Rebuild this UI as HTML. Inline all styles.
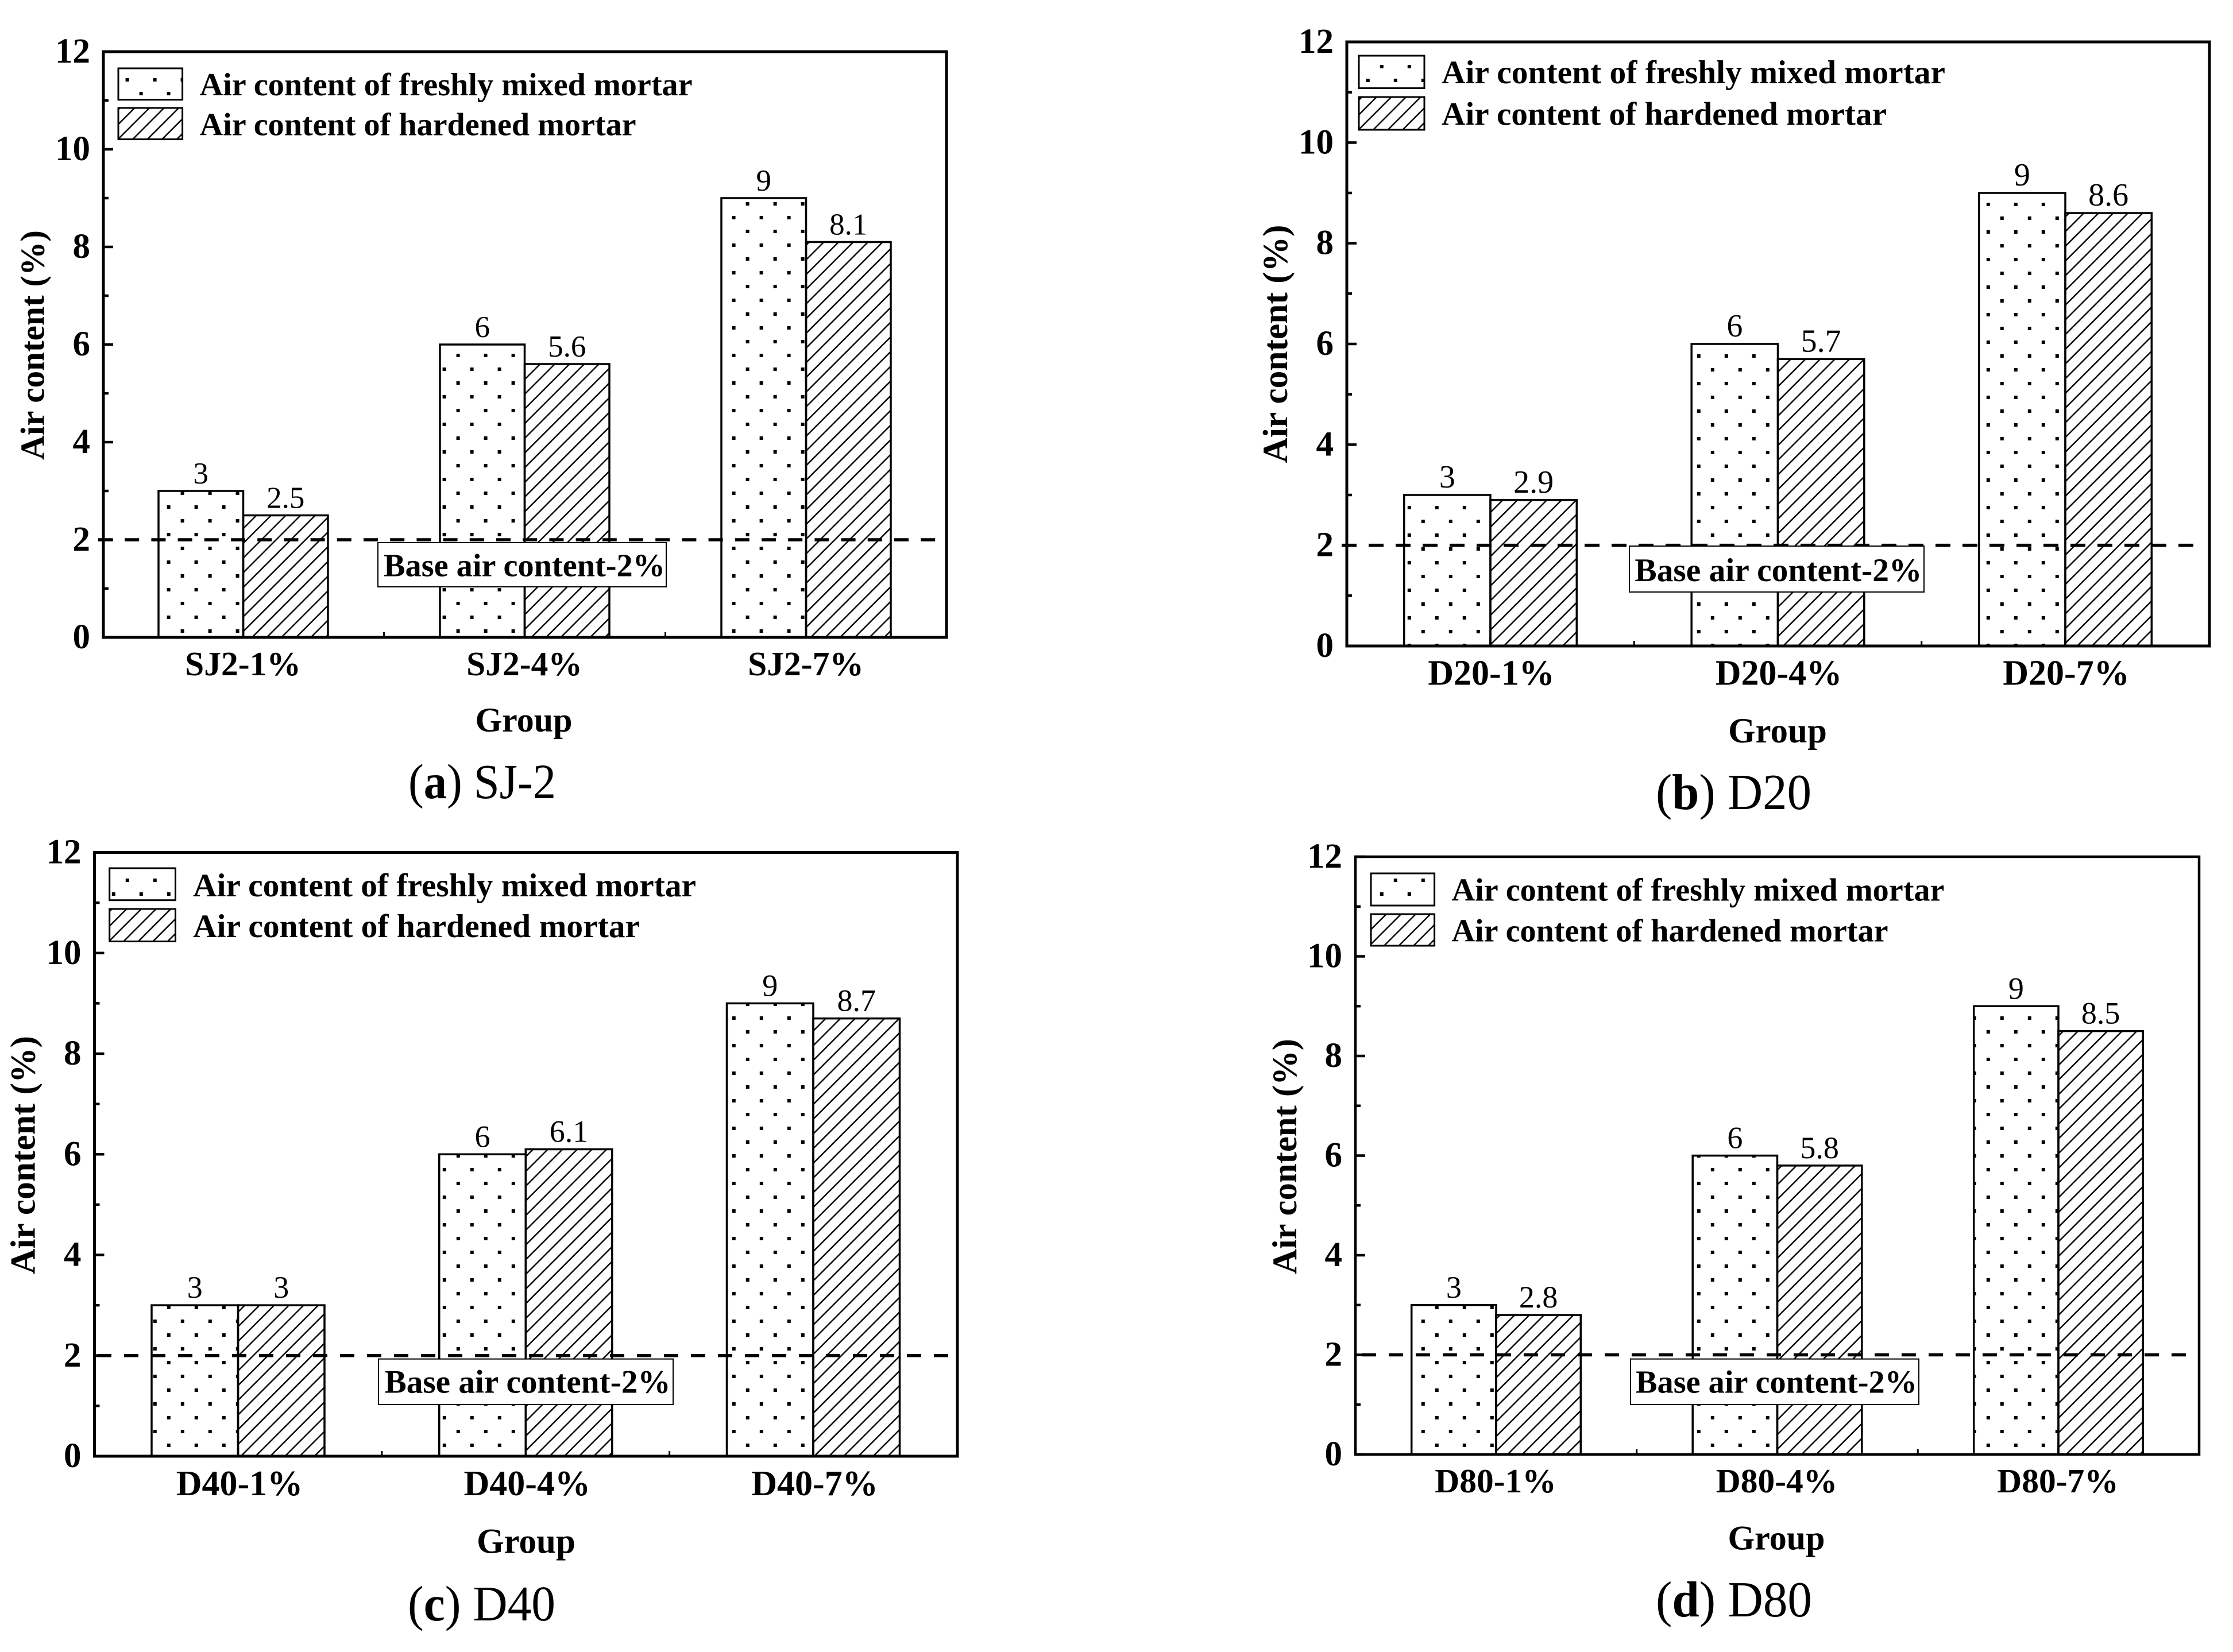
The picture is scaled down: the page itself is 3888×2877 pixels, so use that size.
<!DOCTYPE html>
<html lang="en">
<head>
<meta charset="utf-8">
<title>Air content of mortar groups</title>
<style>
html,body{margin:0;padding:0;background:#fff;width:3888px;height:2877px;overflow:hidden}
svg{display:block}
text{font-family:"Liberation Serif",serif;fill:#000}
.b{font-weight:bold}
</style>
</head>
<body>
<svg id="figure" xmlns="http://www.w3.org/2000/svg" width="3888" height="2877" viewBox="0 0 3888 2877">
<defs>
<pattern id="dots-a" patternUnits="userSpaceOnUse" x="305.6" y="847" width="48" height="48"><rect x="9" y="9" width="6" height="6"/><rect x="33" y="33" width="6" height="6"/></pattern>
<pattern id="dots-b" patternUnits="userSpaceOnUse" x="2465.8" y="896" width="48" height="48"><rect x="9" y="9" width="6" height="6"/><rect x="33" y="33" width="6" height="6"/></pattern>
<pattern id="dots-c" patternUnits="userSpaceOnUse" x="257.8" y="2289" width="48" height="48"><rect x="9" y="9" width="6" height="6"/><rect x="33" y="33" width="6" height="6"/></pattern>
<pattern id="dots-d" patternUnits="userSpaceOnUse" x="2465.8" y="2289" width="48" height="48"><rect x="9" y="9" width="6" height="6"/><rect x="33" y="33" width="6" height="6"/></pattern>
<pattern id="hatch-a" patternUnits="userSpaceOnUse" x="12.8" y="0" width="25.6" height="25.6"><path d="M-2 27.6L27.6 -2M-2 2L2 -2M23.6 27.6L27.6 23.6" stroke="#000" stroke-width="2.5" fill="none"/></pattern>
<pattern id="hatch-b" patternUnits="userSpaceOnUse" x="5.8" y="0" width="25.6" height="25.6"><path d="M-2 27.6L27.6 -2M-2 2L2 -2M23.6 27.6L27.6 23.6" stroke="#000" stroke-width="2.5" fill="none"/></pattern>
<pattern id="hatch-c" patternUnits="userSpaceOnUse" x="11.4" y="0" width="25.6" height="25.6"><path d="M-2 27.6L27.6 -2M-2 2L2 -2M23.6 27.6L27.6 23.6" stroke="#000" stroke-width="2.5" fill="none"/></pattern>
<pattern id="hatch-d" patternUnits="userSpaceOnUse" x="12.2" y="0" width="25.6" height="25.6"><path d="M-2 27.6L27.6 -2M-2 2L2 -2M23.6 27.6L27.6 23.6" stroke="#000" stroke-width="2.5" fill="none"/></pattern>
</defs>

<!-- Panel (a) -->
<g>
  <g id="marks-a"></g>
  <rect x="658" y="945" width="502" height="77" fill="#fff" stroke="#000" stroke-width="2"/>
  <text class="b" x="668" y="1003.6" font-size="56" textLength="490" lengthAdjust="spacingAndGlyphs">Base air content-2%</text>
  <rect x="206" y="119" width="111.6" height="54.7" fill="url(#dots-a)" stroke="#000" stroke-width="3"/>
  <rect x="206" y="188" width="111.6" height="54.6" fill="url(#hatch-a)" stroke="#000" stroke-width="3"/>
  <text class="b" x="347.6" y="166" font-size="56" textLength="858" lengthAdjust="spacingAndGlyphs">Air content of freshly mixed mortar</text>
  <text class="b" x="347.6" y="235.4" font-size="56" textLength="760" lengthAdjust="spacingAndGlyphs">Air content of hardened mortar</text>
  <text class="b" transform="translate(76.5,601) rotate(-90)" text-anchor="middle" font-size="59" textLength="400" lengthAdjust="spacingAndGlyphs">Air content (%)</text>
  <text class="b" x="912" y="1274" text-anchor="middle" font-size="60">Group</text>
  <text x="711" y="1390" font-size="86" textLength="257" lengthAdjust="spacingAndGlyphs">(<tspan class="b">a</tspan>) SJ-2</text>
</g>

<!-- Panel (b) -->
<g>
  <g id="marks-b"></g>
  <rect x="2837" y="951" width="513" height="80" fill="#fff" stroke="#000" stroke-width="2"/>
  <text class="b" x="2846.4" y="1012" font-size="57" textLength="500" lengthAdjust="spacingAndGlyphs">Base air content-2%</text>
  <rect x="2366" y="97" width="114" height="56.6" fill="url(#dots-b)" stroke="#000" stroke-width="3"/>
  <rect x="2366" y="169" width="114" height="57" fill="url(#hatch-b)" stroke="#000" stroke-width="3"/>
  <text class="b" x="2510" y="145" font-size="57" textLength="877" lengthAdjust="spacingAndGlyphs">Air content of freshly mixed mortar</text>
  <text class="b" x="2510" y="217.7" font-size="57" textLength="775" lengthAdjust="spacingAndGlyphs">Air content of hardened mortar</text>
  <text class="b" transform="translate(2241,599) rotate(-90)" text-anchor="middle" font-size="61" textLength="415" lengthAdjust="spacingAndGlyphs">Air content (%)</text>
  <text class="b" x="3095" y="1293" text-anchor="middle" font-size="61">Group</text>
  <text x="2883" y="1409" font-size="88" textLength="271" lengthAdjust="spacingAndGlyphs">(<tspan class="b">b</tspan>) D20</text>
</g>

<!-- Panel (c) -->
<g>
  <g id="marks-c"></g>
  <rect x="659" y="2366.7" width="513" height="79.3" fill="#fff" stroke="#000" stroke-width="2"/>
  <text class="b" x="669.6" y="2425.4" font-size="57" textLength="498" lengthAdjust="spacingAndGlyphs">Base air content-2%</text>
  <rect x="190.7" y="1512" width="114.8" height="55.7" fill="url(#dots-c)" stroke="#000" stroke-width="3"/>
  <rect x="190.7" y="1583" width="114.8" height="56.5" fill="url(#hatch-c)" stroke="#000" stroke-width="3"/>
  <text class="b" x="336" y="1561" font-size="57" textLength="876" lengthAdjust="spacingAndGlyphs">Air content of freshly mixed mortar</text>
  <text class="b" x="336" y="1632" font-size="57" textLength="778" lengthAdjust="spacingAndGlyphs">Air content of hardened mortar</text>
  <text class="b" transform="translate(60.6,2011.5) rotate(-90)" text-anchor="middle" font-size="61" textLength="415" lengthAdjust="spacingAndGlyphs">Air content (%)</text>
  <text class="b" x="916" y="2704.3" text-anchor="middle" font-size="61">Group</text>
  <text x="710" y="2822" font-size="87" textLength="257" lengthAdjust="spacingAndGlyphs">(<tspan class="b">c</tspan>) D40</text>
</g>

<!-- Panel (d) -->
<g>
  <g id="marks-d"></g>
  <rect x="2839" y="2366.7" width="502" height="79.3" fill="#fff" stroke="#000" stroke-width="2"/>
  <text class="b" x="2848" y="2425.4" font-size="56" textLength="490" lengthAdjust="spacingAndGlyphs">Base air content-2%</text>
  <rect x="2387" y="1521" width="110.6" height="56" fill="url(#dots-d)" stroke="#000" stroke-width="3"/>
  <rect x="2387" y="1592" width="110.6" height="55" fill="url(#hatch-d)" stroke="#000" stroke-width="3"/>
  <text class="b" x="2527.5" y="1568.7" font-size="56" textLength="858" lengthAdjust="spacingAndGlyphs">Air content of freshly mixed mortar</text>
  <text class="b" x="2527.5" y="1639.5" font-size="56" textLength="760" lengthAdjust="spacingAndGlyphs">Air content of hardened mortar</text>
  <text class="b" transform="translate(2257,2014) rotate(-90)" text-anchor="middle" font-size="60" textLength="410" lengthAdjust="spacingAndGlyphs">Air content (%)</text>
  <text class="b" x="3093" y="2698.5" text-anchor="middle" font-size="60">Group</text>
  <text x="2883" y="2815" font-size="88" textLength="272" lengthAdjust="spacingAndGlyphs">(<tspan class="b">d</tspan>) D80</text>
</g>
</svg>

<script>
const yMajorTicks = [0, 2, 4, 6, 8, 10, 12];
const yMinorTicks = [1, 3, 5, 7, 9, 11];
const baseAirContent = 2;

const sj2Categories = ['SJ2-1%', 'SJ2-4%', 'SJ2-7%'];
const sj2Fresh = [3, 6, 9];
const sj2Hardened = [2.5, 5.6, 8.1];

const d20Categories = ['D20-1%', 'D20-4%', 'D20-7%'];
const d20Fresh = [3, 6, 9];
const d20Hardened = [2.9, 5.7, 8.6];

const d40Categories = ['D40-1%', 'D40-4%', 'D40-7%'];
const d40Fresh = [3, 6, 9];
const d40Hardened = [3, 6.1, 8.7];

const d80Categories = ['D80-1%', 'D80-4%', 'D80-7%'];
const d80Fresh = [3, 6, 9];
const d80Hardened = [2.8, 5.8, 8.5];

const NS = 'http://www.w3.org/2000/svg';
const yMaxValue = 12;

function svgEl(parent, tag, attrs, txt) {
  const el = document.createElementNS(NS, tag);
  for (const k in attrs) el.setAttribute(k, attrs[k]);
  if (txt !== undefined) el.textContent = txt;
  parent.appendChild(el);
  return el;
}

function drawPanel(p) {
  const g = document.getElementById('marks-' + p.id);
  const yScale = v => p.bottom - (p.bottom - p.top) * v / yMaxValue;
  const xCenter = i => p.cx0 + i * p.step;

  p.categories.forEach((cat, i) => {
    const cx = xCenter(i);
    const freshBar = svgEl(g, 'rect', {x: cx - p.barW, y: yScale(p.fresh[i]), width: p.barW, height: p.bottom - yScale(p.fresh[i]), fill: 'url(#dots-' + p.id + ')', stroke: '#000', 'stroke-width': 3.5});
    
    
    const hardBar = svgEl(g, 'rect', {x: cx, y: yScale(p.hardened[i]), width: p.barW, height: p.bottom - yScale(p.hardened[i]), fill: 'url(#hatch-' + p.id + ')', stroke: '#000', 'stroke-width': 3.5});
    
    
    const freshVal = svgEl(g, 'text', {x: cx - p.barW / 2, y: yScale(p.fresh[i]) - 13, 'text-anchor': 'middle', 'font-size': p.valueSize}, String(p.fresh[i]));
    
    
    const hardVal = svgEl(g, 'text', {x: cx + p.barW / 2, y: yScale(p.hardened[i]) - 13, 'text-anchor': 'middle', 'font-size': p.valueSize}, String(p.hardened[i]));
    
    
    const xLabel = svgEl(g, 'text', {x: p.labelCx0 + i * p.step, y: p.xLabelY, 'text-anchor': 'middle', 'font-size': p.xLabelSize, 'font-weight': 'bold'}, cat);
    
    
    const xMajor = svgEl(g, 'line', {x1: cx, x2: cx, y1: p.bottom, y2: p.bottom - 15, stroke: '#000', 'stroke-width': 3.5});
    
    
    if (i < p.categories.length - 1) {
      const xMinor = svgEl(g, 'line', {x1: cx + p.step / 2, x2: cx + p.step / 2, y1: p.bottom, y2: p.bottom - 9, stroke: '#000', 'stroke-width': 3});
      
      
    }
  });

  const baseLine = svgEl(g, 'line', {x1: p.dashStart, x2: p.dashEnd, y1: yScale(baseAirContent), y2: yScale(baseAirContent), stroke: '#000', 'stroke-width': 5.5, 'stroke-dasharray': p.dash});
  
  

  const frame = svgEl(g, 'rect', {x: p.left, y: p.top, width: p.right - p.left, height: p.bottom - p.top, fill: 'none', stroke: '#000', 'stroke-width': p.frameW});
  
  

  yMajorTicks.forEach(v => {
    const tick = svgEl(g, 'line', {x1: p.left, x2: p.left + 17, y1: yScale(v), y2: yScale(v), stroke: '#000', 'stroke-width': 4.5});
    
    
    const label = svgEl(g, 'text', {x: p.left - 23, y: yScale(v) + 19, 'text-anchor': 'end', 'font-size': 61, 'font-weight': 'bold'}, String(v));
    
    
  });
  yMinorTicks.forEach(v => {
    const tick = svgEl(g, 'line', {x1: p.left, x2: p.left + 9, y1: yScale(v), y2: yScale(v), stroke: '#000', 'stroke-width': 4.5});
    
    
  });
}

drawPanel({id: 'a', categories: sj2Categories, fresh: sj2Fresh, hardened: sj2Hardened,
  left: 180, right: 1648, top: 90, bottom: 1110, cx0: 423.5, step: 490, barW: 147.5, labelCx0: 423,
  xLabelY: 1176, xLabelSize: 59.5, valueSize: 53, frameW: 5, dashStart: 171, dashEnd: 1629, dash: '25 21.2'});
drawPanel({id: 'b', categories: d20Categories, fresh: d20Fresh, hardened: d20Hardened,
  left: 2345, right: 3847, top: 73, bottom: 1125, cx0: 2595, step: 500.5, barW: 150.3, labelCx0: 2596.5,
  xLabelY: 1192.5, xLabelSize: 62, valueSize: 56, frameW: 5, dashStart: 2336, dashEnd: 3827, dash: '26 21'});
drawPanel({id: 'c', categories: d40Categories, fresh: d40Fresh, hardened: d40Hardened,
  left: 164.5, right: 1667, top: 1484.5, bottom: 2536, cx0: 414.5, step: 500.75, barW: 150.5, labelCx0: 417,
  xLabelY: 2604, xLabelSize: 62, valueSize: 54, frameW: 5, dashStart: 169, dashEnd: 1660, dash: '25 22'});
drawPanel({id: 'd', categories: d80Categories, fresh: d80Fresh, hardened: d80Hardened,
  left: 2360, right: 3829, top: 1492, bottom: 2533, cx0: 2605, step: 489.5, barW: 147.3, labelCx0: 2604,
  xLabelY: 2599, xLabelSize: 59.5, valueSize: 54, frameW: 4.5, dashStart: 2371, dashEnd: 3829, dash: '25 22'});
</script>
</body>
</html>
